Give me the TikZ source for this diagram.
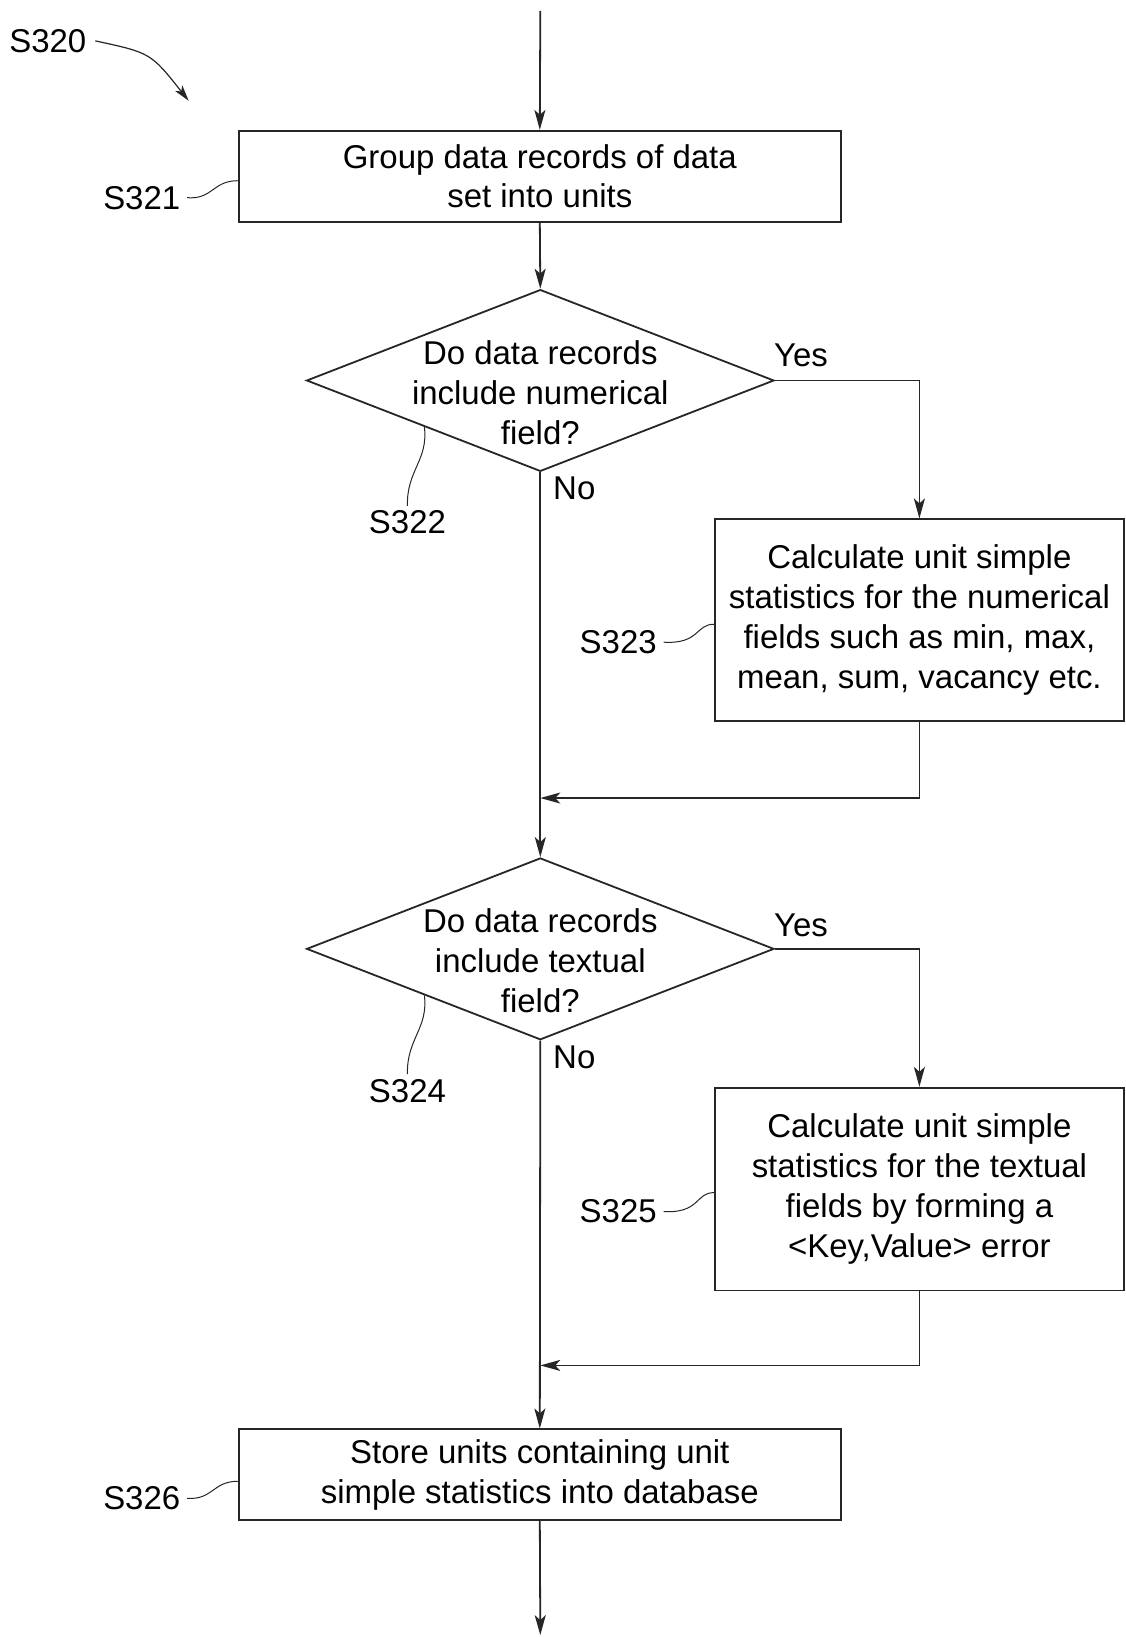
\documentclass[tikz,border=0pt]{standalone}
\usepackage{fontspec}
\setmainfont{Liberation Sans}
\usetikzlibrary{shapes.geometric,arrows.meta,calc}
\begin{document}
\begin{tikzpicture}[x=1pt,y=-1pt,
  font=\fontsize{33}{40}\selectfont,
  line width=1.8pt,
  every path/.style={draw=black!85},
  stepbox/.style={draw=black!85,rectangle,align=center,inner sep=0pt},
  decision/.style={draw=black!85,diamond,inner sep=0pt,minimum width=468pt,minimum height=182pt},
  txt/.style={align=center,inner sep=0pt},
  flow/.style={-{Stealth[length=20pt,width=11pt,inset=5pt]}},
  leader/.style={line width=1pt}]
\useasboundingbox (0,0) rectangle (1125,1637);
\fill[white] (0,0) rectangle (1125,1637);

\coordinate (start) at (540,10);
\coordinate (finish) at (540,1636);

\node[stepbox,minimum width=603pt,minimum height=91pt] (b1) at (539.5,175.5) {Group data records of data\\set into units};
\node[decision] (d1) at (540,380) {};
\node[txt] (d1t) at (540,392) {Do data records\\include numerical\\field?};
\node[stepbox,minimum width=409pt,minimum height=202pt] (b2) at (919.5,620) {Calculate unit simple\\statistics for the numerical\\fields such as min, max,\\mean, sum, vacancy etc.};
\node[decision] (d2) at (540,949) {};
\node[txt] (d2t) at (540,961) {Do data records\\include textual\\field?};
\node[stepbox,minimum width=409pt,minimum height=203pt] (b4) at (919.5,1189.5) {Calculate unit simple\\statistics for the textual\\fields by forming a\\<Key,Value> error};
\node[stepbox,minimum width=603pt,minimum height=91pt] (b5) at (539.5,1475.5) {Store units containing unit\\simple statistics into database};

\node[txt] (y1) at (801,355) {Yes};
\node[txt] (n1) at (574,488) {No};
\node[txt] (y2) at (801,925) {Yes};
\node[txt] (n2) at (574,1058) {No};

\node[txt] (l320) at (47,40) {S320};
\node[txt] (l321) at (141,197) {S321};
\node[txt] (l322) at (407,522) {S322};
\node[txt] (l323) at (618,642) {S323};
\node[txt] (l324) at (407,1091) {S324};
\node[txt] (l325) at (618,1212) {S325};
\node[txt] (l326) at (141,1499) {S326};

\coordinate (j1) at (540,798);
\coordinate (j2) at (540,1366);
\coordinate (e320) at (188,100);

% main flow
\draw[flow] (start) -- (b1.north);
\draw[flow] (b1.south) -- (d1.north);
\draw[flow] (d1.east) -| (b2.north);
\draw[flow] (d1.south) -- (d2.north);
\draw[flow] (b2.south) |- (j1);
\draw[flow] (d2.east) -| (b4.north);
\draw[flow] (d2.south) -- (b5.north);
\draw[flow] (b4.south) |- (j2);
\draw[flow] (b5.south) -- (finish);

% S320 arrow
\draw[line width=1.2pt,-{Stealth[length=16pt,width=9pt,inset=4pt]}] ([xshift=8pt]l320.east) .. controls (150,52) .. (e320);

% leaders
\draw[leader] ([xshift=6pt]l321.east) .. controls (212,199) and (212,180) .. ([yshift=-4.5pt]b1.west);
\draw[leader] ([xshift=6pt]l326.east) .. controls (212,1501) and (212,1482) .. ([yshift=-6.5pt]b5.west);
\draw[leader] ([xshift=6pt]l323.east) .. controls (700,644) and (695,624) .. ([yshift=-4pt]b2.west);
\draw[leader] ([xshift=6pt]l325.east) .. controls (700,1214) and (695,1193) .. ([yshift=-3.5pt]b4.west);
\draw[leader] ($(d1.west)!0.506!(d1.south)$) .. controls (428,460) and (406,470) .. ([yshift=4pt]l322.north);
\draw[leader] ($(d2.west)!0.506!(d2.south)$) .. controls (428,1029) and (406,1039) .. ([yshift=4pt]l324.north);
\end{tikzpicture}
\end{document}
